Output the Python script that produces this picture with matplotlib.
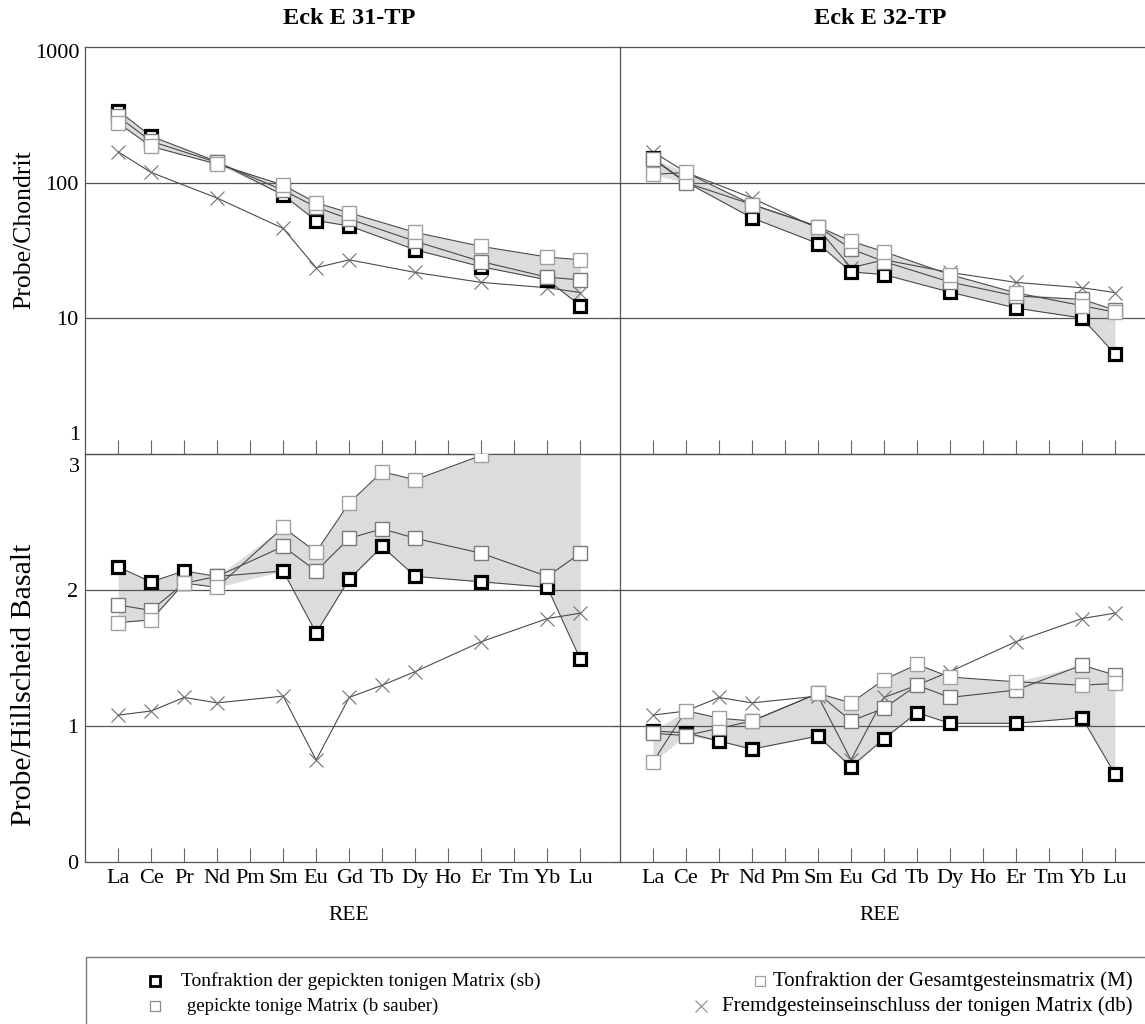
import numpy as np
import matplotlib
matplotlib.use('Agg')
import matplotlib.pyplot as plt
from matplotlib.lines import Line2D
from matplotlib.patches import Rectangle
from matplotlib.ticker import NullLocator

plt.rcParams['font.family'] = ['Liberation Serif', 'DejaVu Serif']

nan = np.nan

# ---------------- data ----------------
ree = ['La', 'Ce', 'Pr', 'Nd', 'Pm', 'Sm', 'Eu', 'Gd', 'Tb', 'Dy', 'Ho', 'Er', 'Tm', 'Yb', 'Lu']
titles = ['Eck E 31-TP', 'Eck E 32-TP']
legend_labels = ['Tonfraktion der gepickten tonigen Matrix (sb)',
                 'gepickte tonige Matrix (b sauber)',
                 'Tonfraktion der Gesamtgesteinsmatrix (M)',
                 'Fremdgesteinseinschluss der tonigen Matrix (db)']

# chondrite normalised (top row)
sb_31_ch = [340, 220, nan, 143, nan, 81, 52.5, 48, nan, 32, nan, 24, nan, 19.2, 12.4]
b_31_ch = [308, 202, nan, 141, nan, 88, 66, 54, nan, 37, nan, 26.2, nan, 20.1, 19.2]
M_31_ch = [276, 185, nan, 137, nan, 96, 71, 60, nan, 43, nan, 33.9, nan, 28.3, 27]
sb_32_ch = [151, 101, nan, 55, nan, 35.6, 22, 21, nan, 15.6, nan, 11.9, nan, 10.05, 5.45]
b_32_ch = [149, 100, nan, 69, nan, 47.5, 32.5, 26.2, nan, 18.5, nan, 14.6, nan, 13.8, 11.5]
M_32_ch = [115, 119, nan, 69, nan, 47.5, 37, 31, nan, 21, nan, 15.4, nan, 12.4, 11.1]
db_ch = [169, 119, nan, 77, nan, 46, 23.6, 27, nan, 21.8, nan, 18.4, nan, 16.8, 15.5]

# Hillscheid basalt normalised (bottom row)
sb_31_bas = [2.17, 2.06, 2.14, 2.10, nan, 2.14, 1.685, 2.08, 2.32, 2.10, nan, 2.06, nan, 2.02, 1.49]
b_31_bas = [1.89, 1.85, 2.05, 2.10, nan, 2.32, 2.14, 2.38, 2.45, 2.38, nan, 2.27, nan, 2.10, 2.27]
M_31_bas = [1.76, 1.78, 2.05, 2.02, nan, 2.46, 2.28, 2.64, 2.87, 2.81, nan, 2.99, nan, 3.12, 3.2]
sb_32_bas = [0.963, 0.95, 0.889, 0.83, nan, 0.926, 0.70, 0.906, 1.098, 1.02, nan, 1.02, nan, 1.061, 0.646]
b_32_bas = [0.946, 0.93, 0.983, 1.037, nan, 1.24, 1.037, 1.13, 1.30, 1.21, nan, 1.264, nan, 1.448, 1.374]
M_32_bas = [0.736, 1.113, 1.057, 1.037, nan, 1.24, 1.17, 1.34, 1.453, 1.36, nan, 1.325, nan, 1.30, 1.313]
db_bas = [1.08, 1.11, 1.21, 1.17, nan, 1.22, 0.75, 1.21, 1.30, 1.40, nan, 1.62, nan, 1.79, 1.83]

# ---------------- layout ----------------
W, H = 1145, 1024
fig = plt.figure(figsize=(W / 100, H / 100), dpi=100)


def box(x0, y0, x1, y1):
    return [x0 / W, 1 - y1 / H, (x1 - x0) / W, (y1 - y0) / H]


def fx(x):
    return x / W


def fy(y):
    return 1 - y / H


ax_tl = fig.add_axes(box(85, 47, 620, 454))
ax_tr = fig.add_axes(box(620, 47, 1145, 454))
ax_bl = fig.add_axes(box(85, 454, 620, 862))
ax_br = fig.add_axes(box(620, 454, 1145, 862))

xpos = np.arange(len(ree), dtype=float)
LINE_C = '#4a4a4a'
SPINE_C = '#555555'
FILL_C = '#dcdcdc'


def draw(ax, sb, b, M, db):
    sb, b, M, db = (np.array(v, dtype=float) for v in (sb, b, M, db))
    arr = np.vstack([sb, b, M])
    valid = ~np.isnan(arr).all(axis=0)
    lo = np.nanmin(arr[:, valid], axis=0)
    hi = np.nanmax(arr[:, valid], axis=0)
    ax.fill_between(xpos[valid], lo, hi, color=FILL_C, lw=0, zorder=1)
    for v in (db, sb, b, M):
        m = ~np.isnan(v)
        ax.plot(xpos[m], v[m], color=LINE_C, lw=0.8, zorder=2)
    m = ~np.isnan(db)
    ax.plot(xpos[m], db[m], ls='none', marker='x', ms=9.5, mew=0.8,
            color='#707070', zorder=3)
    m = ~np.isnan(sb)
    ax.plot(xpos[m], sb[m], ls='none', marker='s', ms=8.6, mew=2.3,
            mfc='white', mec='black', zorder=3.1)
    m = ~np.isnan(b)
    ax.plot(xpos[m], b[m], ls='none', marker='s', ms=9.6, mew=1.0,
            mfc='white', mec='#7a7a7a', zorder=3.2)
    m = ~np.isnan(M)
    ax.plot(xpos[m], M[m], ls='none', marker='s', ms=9.6, mew=1.0,
            mfc='white', mec='#a0a0a0', zorder=3.3)


draw(ax_tl, sb_31_ch, b_31_ch, M_31_ch, db_ch)
draw(ax_tr, sb_32_ch, b_32_ch, M_32_ch, db_ch)
draw(ax_bl, sb_31_bas, b_31_bas, M_31_bas, db_bas)
draw(ax_br, sb_32_bas, b_32_bas, M_32_bas, db_bas)

for ax in (ax_tl, ax_tr):
    ax.set_yscale('log')
    ax.set_ylim(1, 1000)
    ax.yaxis.set_minor_locator(NullLocator())
    ax.set_yticks([10, 100, 1000])
    for g in (10, 100):
        ax.axhline(g, color=SPINE_C, lw=0.9, zorder=1.5)
for ax in (ax_bl, ax_br):
    ax.set_ylim(0, 3)
    ax.set_yticks([0, 1, 2])
    for g in (1, 2):
        ax.axhline(g, color=SPINE_C, lw=0.9, zorder=1.5)

for ax in (ax_tl, ax_bl):
    ax.set_xlim(-1, 15.2)
for ax in (ax_tr, ax_br):
    ax.set_xlim(-1, -1 + 525 / 33.0)

for ax in (ax_tl, ax_tr, ax_bl, ax_br):
    ax.set_xticks(xpos)
    ax.tick_params(axis='x', direction='in', length=10, width=0.8,
                   color='#6a6a6a', labelsize=16, pad=5)
    for s in ax.spines.values():
        s.set_color(SPINE_C)
        s.set_linewidth(0.9)
    ax.spines['right'].set_visible(False)
    ax.set_facecolor('none')

for ax in (ax_tl, ax_tr):
    ax.tick_params(axis='x', labelbottom=False)
for ax in (ax_bl, ax_br):
    ax.set_xticklabels(ree)

for ax in (ax_tl, ax_bl):
    ax.tick_params(axis='y', length=0, labelsize=16, pad=5)
ax_tl.set_yticklabels(['10', '100', ''])
ax_bl.set_yticklabels(['0', '1', '2'])
for ax in (ax_tr, ax_br):
    ax.tick_params(axis='y', length=5, width=0.8, color=SPINE_C,
                   labelleft=False)

# axis labels at the ends / joint of the two panels
fig.text(fx(80), fy(53), '1000', ha='right', va='center', fontsize=16)
fig.text(fx(80), fy(436), '1', ha='right', va='center', fontsize=16)
fig.text(fx(80), fy(468), '3', ha='right', va='center', fontsize=16)

# titles and axis titles
fig.text(fx(349), fy(18), titles[0], ha='center', va='center',
         fontsize=17.5, fontweight='bold')
fig.text(fx(880), fy(18), titles[1], ha='center', va='center',
         fontsize=17.5, fontweight='bold')
fig.text(fx(349), fy(915), 'REE', ha='center', va='center', fontsize=15.5)
fig.text(fx(880), fy(915), 'REE', ha='center', va='center', fontsize=15.5)
fig.text(fx(24), fy(230), 'Probe/Chondrit', rotation=90, ha='center',
         va='center', fontsize=18.5)
fig.text(fx(24), fy(685), 'Probe/Hillscheid Basalt', rotation=90,
         ha='center', va='center', fontsize=21.5)

# legend
fig.add_artist(Rectangle((fx(86), fy(1030)), fx(1150) - fx(86), fy(957) - fy(1030),
                         transform=fig.transFigure, fill=False,
                         edgecolor='#777777', lw=1.0))
fig.add_artist(Line2D([fx(155)], [fy(981)], transform=fig.transFigure,
                      ls='none', marker='s', ms=7, mew=2.0, mfc='white', mec='black'))
fig.add_artist(Line2D([fx(155)], [fy(1006)], transform=fig.transFigure,
                      ls='none', marker='s', ms=7.5, mew=0.9, mfc='white', mec='#8a8a8a'))
fig.text(fx(181), fy(981), legend_labels[0], ha='left', va='center', fontsize=14)
fig.text(fx(187), fy(1006), legend_labels[1], ha='left', va='center', fontsize=13.5)

# right column: text ends near the right edge, symbol just before the text
renderer = fig.canvas.get_renderer()
t2 = fig.text(fx(1133), fy(981), legend_labels[2], ha='right', va='center', fontsize=15)
t3 = fig.text(fx(1133), fy(1006), legend_labels[3], ha='right', va='center', fontsize=15)
x2 = t2.get_window_extent(renderer).x0
x3 = t3.get_window_extent(renderer).x0
fig.add_artist(Line2D([(x2 - 13) / W], [fy(981)], transform=fig.transFigure,
                      ls='none', marker='s', ms=7.5, mew=0.9, mfc='white', mec='#a0a0a0'))
fig.add_artist(Line2D([(x3 - 22) / W], [fy(1006)], transform=fig.transFigure,
                      ls='none', marker='x', ms=8, mew=0.8, color='#8a8a8a'))

fig.savefig('out.png', dpi=100)
